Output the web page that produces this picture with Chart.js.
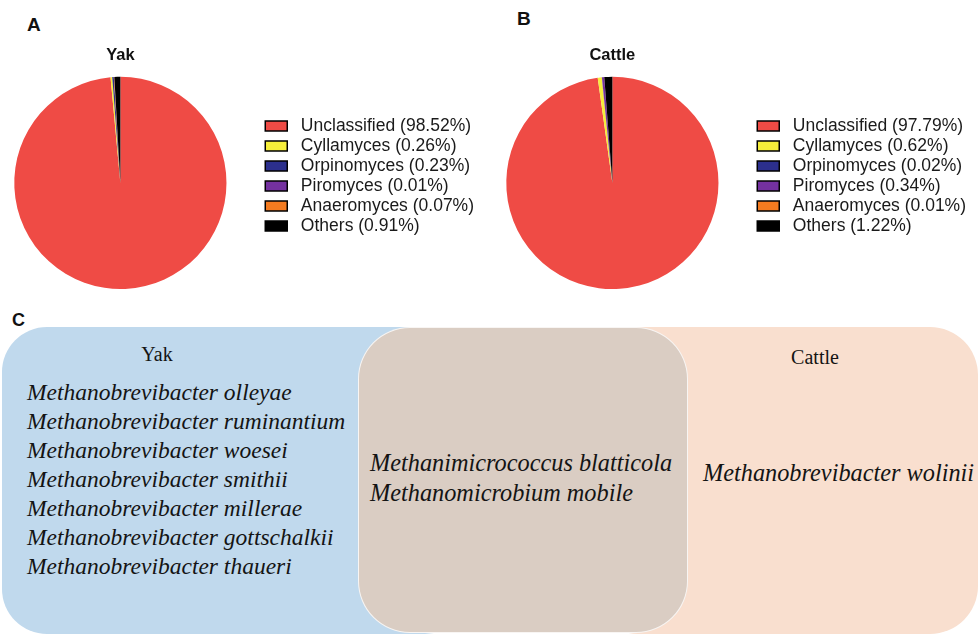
<!DOCTYPE html>
<html>
<head>
<meta charset="utf-8">
<script src="https://cdn.jsdelivr.net/npm/chart.js@4.4.1/dist/chart.umd.min.js"></script>
<style>
    body { margin: 0; background: #fff; }
    #page { position: relative; width: 980px; height: 635px; overflow: hidden; background: #fff; }
    .letter { position: absolute; font-family: 'Liberation Sans', Arial, sans-serif; font-weight: bold; line-height: 1; color: #111; }
    .pieBox { position: absolute; top: 0; width: 512px; height: 300px; }
    .venn { position: absolute; top: 327px; }
    .serif { position: absolute; font-family: 'Liberation Serif', 'Times New Roman', serif; color: #141414; white-space: nowrap; }
    .species { font-style: italic; font-size: 23.5px; line-height: 29px; }
    .species.big { font-size: 24.3px; line-height: 30px; }
</style>
</head>
<body>
<div id="page">
    <div class="letter" style="left:27px; top:15px; font-size:19px;">A</div>
    <div class="letter" style="left:517px; top:9px; font-size:19px;">B</div>
    <div class="pieBox" style="left:-22px;"><canvas id="yakPie" width="512" height="300"></canvas></div>
    <div class="pieBox" style="left:470px;"><canvas id="cattlePie" width="512" height="300"></canvas></div>

    <div class="letter" style="left:12px; top:311px; font-size:18px;">C</div>
    <div class="venn" style="left:2px; width:468px; height:307px; border-radius:45px; background:#c0d9ed;"></div>
    <div class="venn" style="left:590px; width:388px; height:307px; border-radius:48px; background:#f9dfcf;"></div>
    <div class="venn" style="left:358px; width:328px; height:304px; border-radius:52px; background:#dacdc3; border:1.5px solid rgba(255,255,255,0.8);"></div>

    <div class="serif" style="left:137px; top:344px; width:40px; text-align:center; font-size:20px; line-height:20px;">Yak</div>
    <div class="serif species" id="yakList" style="left:27px; top:378px;"></div>
    <div class="serif species big" id="sharedList" style="left:370px; top:448px;"></div>
    <div class="serif" style="left:775px; top:347px; width:80px; text-align:center; font-size:20px; line-height:20px;">Cattle</div>
    <div class="serif species big" id="cattleList" style="left:703px; top:458px;"></div>
</div>
<script>
// Datos de los gráficos de sectores (porcentajes de hongos)
const CATEGORIES = ['Unclassified', 'Cyllamyces', 'Orpinomyces', 'Piromyces', 'Anaeromyces', 'Others'];
const YAK_VALUES = [98.52, 0.26, 0.23, 0.01, 0.07, 0.91];
const CATTLE_VALUES = [97.79, 0.62, 0.02, 0.34, 0.01, 1.22];
const SLICE_COLORS = ['#ef4b45', '#f6ee3a', '#2c2f8d', '#7431a0', '#f47b20', '#000000'];

// Especies de metanógenos del panel C
const YAK_ONLY = [
    'Methanobrevibacter olleyae',
    'Methanobrevibacter ruminantium',
    'Methanobrevibacter woesei',
    'Methanobrevibacter smithii',
    'Methanobrevibacter millerae',
    'Methanobrevibacter gottschalkii',
    'Methanobrevibacter thaueri'
];
const SHARED = ['Methanimicrococcus blatticola', 'Methanomicrobium mobile'];
const CATTLE_ONLY = ['Methanobrevibacter wolinii'];

const PieUtils = {
    create: (ctx, title, values) => {
        const config = {
            type: 'pie',
            data: {
                labels: CATEGORIES,
                datasets: [{
                    data: values,
                    backgroundColor: SLICE_COLORS,
                    borderWidth: 0,
                    hoverOffset: 0,
                }]
            },
            options: {
                responsive: false,
                animation: false,
                devicePixelRatio: 1,
                layout: {
                    padding: { left: 0, right: 6, top: 46, bottom: 11 }
                },
                plugins: {
                    tooltip: { enabled: false },
                    title: {
                        display: true,
                        text: title,
                        fullSize: false,
                        color: '#111',
                        font: { family: "'Liberation Sans', Arial, sans-serif", size: 16.5, weight: 'bold' },
                        padding: { top: 0, bottom: 11 }
                    },
                    legend: {
                        position: 'right',
                        align: 'center',
                        // título vacío solo para bajar un poco las entradas
                        title: { display: true, text: '', padding: 0, font: { size: 14 } },
                        labels: {
                            boxWidth: 22,
                            boxHeight: 10,
                            padding: 2.5,
                            color: '#1a1a1a',
                            font: { family: "'Liberation Sans', Arial, sans-serif", size: 17.5 },
                            generateLabels: (chart) => {
                                const ds = chart.data.datasets[0];
                                // el espacio inicial separa el texto de la caja como en el original
                                return chart.data.labels.map((label, i) => ({
                                    text: ' ' + label + ' (' + ds.data[i].toFixed(2) + '%)',
                                    fillStyle: ds.backgroundColor[i],
                                    strokeStyle: '#000',
                                    lineWidth: 1.5,
                                    fontColor: '#1a1a1a',
                                    hidden: false,
                                    index: i
                                }));
                            }
                        }
                    }
                }
            }
        };
        return new Chart(ctx, config);
    }
};

PieUtils.create(document.getElementById('yakPie'), 'Yak', YAK_VALUES);
PieUtils.create(document.getElementById('cattlePie'), 'Cattle', CATTLE_VALUES);

const fillList = (id, items) => {
    document.getElementById(id).innerHTML = items.map(s => '<div>' + s + '</div>').join('');
};
fillList('yakList', YAK_ONLY);
fillList('sharedList', SHARED);
fillList('cattleList', CATTLE_ONLY);
</script>
</body>
</html>
